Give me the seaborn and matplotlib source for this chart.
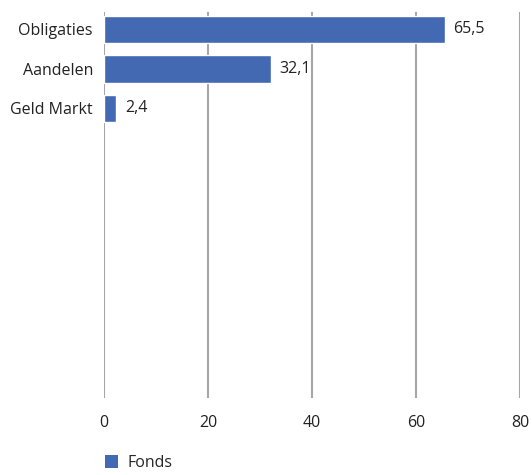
import matplotlib
matplotlib.use("Agg")
import matplotlib.pyplot as plt
import seaborn as sns
import pandas as pd
from matplotlib.patches import Patch

categories = ["Obligaties", "Aandelen", "Geld Markt"]
values = [65.5, 32.1, 2.4]
value_labels = ["65,5", "32,1", "2,4"]
xticks = [0, 20, 40, 60, 80]
series_name = "Fonds"

sns.set_theme(style="white")
plt.rcParams['font.family'] = ['Open Sans', 'DejaVu Sans']

color = "#4469B3"
df = pd.DataFrame({"cat": categories, "val": values})

fig = plt.figure(figsize=(5.32, 4.75), dpi=100)
ax = fig.add_axes([104/532, 1-398/475, 416/532, 386/475])
sns.barplot(data=df, y="cat", x="val", orient="h", color=color, width=0.69,
            saturation=1, ax=ax)
ax.set_ylim(9.33, -0.443)
ax.set_xlim(0, 80)
ax.set_xticks(xticks)
ax.set_xticklabels([str(t) for t in xticks], fontsize=11.5, color="#222222")
ax.tick_params(axis="y", labelsize=11.5, labelcolor="#222222", length=0, pad=8)
ax.tick_params(axis="x", length=0, pad=12)
ax.set_xlabel("")
ax.set_ylabel("")
for s in ax.spines.values():
    s.set_visible(False)
ax.grid(axis="x", color="#A6A6A6", linewidth=1.5)
ax.set_axisbelow(True)
for i, (v, lab) in enumerate(zip(values, value_labels)):
    ax.text(v + 1.6, i, lab, va="center", ha="left", fontsize=11.5, color="#222222")

handles = [Patch(facecolor=color, edgecolor="none", label=series_name)]
fig.legend(handles=handles, loc="center left", bbox_to_anchor=(91/532, 1-463/475),
           frameon=False, fontsize=11.5, handlelength=0.8, handleheight=0.8,
           handletextpad=0.6)

fig.savefig("out.png", dpi=100)
